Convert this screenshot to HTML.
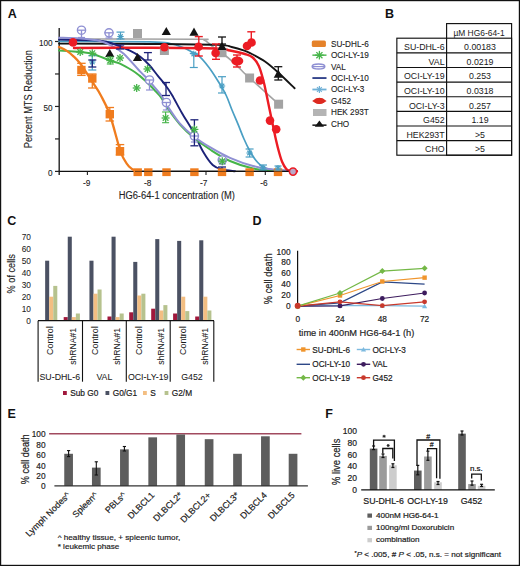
<!DOCTYPE html><html><head><meta charset="utf-8"><style>html,body{margin:0;padding:0;background:#fff;}svg{display:block;}</style></head><body>
<svg width="520" height="566" viewBox="0 0 520 566" font-family='"Liberation Sans", sans-serif'>
<rect x="0" y="0" width="520" height="566" fill="#fff" />
<rect x="0.55" y="0.55" width="518.9" height="564.9" fill="none" stroke="#111" stroke-width="1.3"/>
<text x="7.8" y="17.9" font-size="12.5" text-anchor="start" fill="#111" font-weight="bold" >A</text>
<line x1="59.2" y1="28" x2="59.2" y2="175" stroke="#222" stroke-width="1.4" />
<line x1="58.5" y1="171.4" x2="297" y2="171.4" stroke="#111" stroke-width="1.4" />
<line x1="55" y1="171.4" x2="59" y2="171.4" stroke="#222" stroke-width="1.2" />
<line x1="55" y1="138.925" x2="59" y2="138.925" stroke="#222" stroke-width="1.2" />
<line x1="55" y1="106.45" x2="59" y2="106.45" stroke="#222" stroke-width="1.2" />
<line x1="55" y1="73.97500000000001" x2="59" y2="73.97500000000001" stroke="#222" stroke-width="1.2" />
<line x1="55" y1="41.5" x2="59" y2="41.5" stroke="#222" stroke-width="1.2" />
<text x="52.6" y="45.8" font-size="8.2" text-anchor="end" fill="#222" stroke="#222" stroke-width="0.1" >100</text>
<text x="52.6" y="110.75" font-size="8.2" text-anchor="end" fill="#222" stroke="#222" stroke-width="0.1" >50</text>
<text x="52.6" y="175.70000000000002" font-size="8.2" text-anchor="end" fill="#222" stroke="#222" stroke-width="0.1" >0</text>
<line x1="87.4" y1="171.4" x2="87.4" y2="174.9" stroke="#222" stroke-width="1.1" />
<text x="86.7" y="185.8" font-size="8.3" text-anchor="middle" fill="#222" stroke="#222" stroke-width="0.1" >-9</text>
<line x1="146.7" y1="171.4" x2="146.7" y2="174.9" stroke="#222" stroke-width="1.1" />
<text x="147.6" y="185.8" font-size="8.3" text-anchor="middle" fill="#222" stroke="#222" stroke-width="0.1" >-8</text>
<line x1="206.0" y1="171.4" x2="206.0" y2="174.9" stroke="#222" stroke-width="1.1" />
<text x="203.8" y="185.8" font-size="8.3" text-anchor="middle" fill="#222" stroke="#222" stroke-width="0.1" >-7</text>
<line x1="265.29999999999995" y1="171.4" x2="265.29999999999995" y2="174.9" stroke="#222" stroke-width="1.1" />
<text x="264.0" y="185.8" font-size="8.3" text-anchor="middle" fill="#222" stroke="#222" stroke-width="0.1" >-6</text>
<text x="176.8" y="199.3" font-size="10" text-anchor="middle" fill="#222" stroke="#222" stroke-width="0.1" textLength="116.3" lengthAdjust="spacingAndGlyphs" >HG6-64-1 concentration (M)</text>
<text x="32.5" y="99.2" font-size="10" text-anchor="middle" fill="#222" stroke="#222" stroke-width="0.1" textLength="98" lengthAdjust="spacingAndGlyphs" transform="rotate(-90 32.5 99.2)" >Percent MTS Reduction</text>
<path d="M59.00,39.00 C81.67,39.03 170.83,39.03 195.00,39.20 C219.17,39.37 201.67,39.28 204.00,40.00 C206.33,40.72 206.75,41.73 209.00,43.50 C211.25,45.27 215.33,49.02 217.50,50.60 C219.67,52.18 219.17,50.88 222.00,53.00 C224.83,55.12 230.77,59.93 234.50,63.30 C238.23,66.67 241.88,70.75 244.40,73.20 C246.92,75.65 246.33,75.03 249.60,78.00 C252.87,80.97 259.17,86.63 264.00,91.00 C268.83,95.37 276.17,102.00 278.60,104.20" fill="none" stroke="#a3a3a3" stroke-width="1.6" stroke-linecap="round" stroke-linejoin="round"/>
<path d="M59.00,41.40 C74.17,41.47 131.50,41.45 150.00,41.80 C168.50,42.15 164.50,42.55 170.00,43.50 C175.50,44.45 179.50,46.17 183.00,47.50 C186.50,48.83 188.32,50.05 191.00,51.50 C193.68,52.95 196.10,53.53 199.10,56.20 C202.10,58.87 205.93,63.48 209.00,67.50 C212.07,71.52 214.67,75.72 217.50,80.30 C220.33,84.88 223.58,90.05 226.00,95.00 C228.42,99.95 229.97,105.07 232.00,110.00 C234.03,114.93 236.20,119.77 238.20,124.60 C240.20,129.43 242.10,134.68 244.00,139.00 C245.90,143.32 247.60,146.92 249.60,150.50 C251.60,154.08 253.70,157.72 256.00,160.50 C258.30,163.28 260.23,165.58 263.40,167.20 C266.57,168.82 269.40,169.57 275.00,170.20 C280.60,170.83 293.33,170.87 297.00,171.00" fill="none" stroke="#4a9fc4" stroke-width="1.7" stroke-linecap="round" stroke-linejoin="round"/>
<path d="M59.00,43.60 C74.17,43.67 123.58,43.78 150.00,44.00 C176.42,44.22 203.88,44.40 217.50,44.90 C231.12,45.40 227.22,46.05 231.70,47.00 C236.18,47.95 241.18,49.52 244.40,50.60 C247.62,51.68 247.57,51.68 251.00,53.50 C254.43,55.32 260.33,58.22 265.00,61.50 C269.67,64.78 274.07,68.73 279.00,73.20 C283.93,77.67 292.00,85.78 294.60,88.30" fill="none" stroke="#141414" stroke-width="1.9" stroke-linecap="round" stroke-linejoin="round"/>
<path d="M59.00,39.60 C65.83,39.77 90.67,39.78 100.00,40.60 C109.33,41.42 110.02,42.83 115.00,44.50 C119.98,46.17 125.73,48.60 129.90,50.60 C134.07,52.60 136.78,54.10 140.00,56.50 C143.22,58.90 146.25,61.82 149.20,65.00 C152.15,68.18 154.87,72.07 157.70,75.60 C160.53,79.13 163.82,82.97 166.20,86.20 C168.58,89.43 169.38,90.53 172.00,95.00 C174.62,99.47 178.32,106.78 181.90,113.00 C185.48,119.22 189.98,125.88 193.50,132.30 C197.02,138.72 199.80,146.05 203.00,151.50 C206.20,156.95 209.48,162.00 212.70,165.00 C215.92,168.00 218.58,168.47 222.30,169.50 C226.02,170.53 232.88,170.92 235.00,171.20" fill="none" stroke="#1c2278" stroke-width="1.9" stroke-linecap="round" stroke-linejoin="round"/>
<path d="M59.00,50.50 C62.50,50.75 74.33,51.42 80.00,52.00 C85.67,52.58 88.00,52.58 93.00,54.00 C98.00,55.42 105.50,58.90 110.00,60.50 C114.50,62.10 116.27,61.93 120.00,63.60 C123.73,65.27 129.15,68.50 132.40,70.50 C135.65,72.50 137.35,73.88 139.50,75.60 C141.65,77.32 143.37,78.98 145.30,80.80 C147.23,82.62 149.62,85.00 151.10,86.50 C152.58,88.00 152.52,87.95 154.20,89.80 C155.88,91.65 158.82,94.32 161.20,97.60 C163.58,100.88 165.37,105.02 168.50,109.50 C171.63,113.98 175.83,119.83 180.00,124.50 C184.17,129.17 188.37,133.25 193.50,137.50 C198.63,141.75 204.72,146.08 210.80,150.00 C216.88,153.92 222.97,157.92 230.00,161.00 C237.03,164.08 245.50,166.90 253.00,168.50 C260.50,170.10 267.67,170.18 275.00,170.60 C282.33,171.02 293.33,170.93 297.00,171.00" fill="none" stroke="#45b449" stroke-width="2.0" stroke-linecap="round" stroke-linejoin="round"/>
<path d="M59.00,37.70 C62.50,37.83 73.17,37.95 80.00,38.50 C86.83,39.05 94.67,39.75 100.00,41.00 C105.33,42.25 108.05,43.88 112.00,46.00 C115.95,48.12 119.03,49.47 123.70,53.70 C128.37,57.93 136.10,67.28 140.00,71.40 C143.90,75.52 144.73,75.82 147.10,78.40 C149.47,80.98 151.85,84.07 154.20,86.90 C156.55,89.73 158.82,91.97 161.20,95.40 C163.58,98.83 165.37,102.78 168.50,107.50 C171.63,112.22 175.83,118.92 180.00,123.70 C184.17,128.48 188.37,132.20 193.50,136.20 C198.63,140.20 204.72,144.10 210.80,147.70 C216.88,151.30 222.97,154.75 230.00,157.80 C237.03,160.85 245.50,164.00 253.00,166.00 C260.50,168.00 267.67,168.97 275.00,169.80 C282.33,170.63 293.33,170.80 297.00,171.00" fill="none" stroke="#8f90d3" stroke-width="2.0" stroke-linecap="round" stroke-linejoin="round"/>
<path d="M74.00,48.00 C86.67,47.97 126.50,47.72 150.00,47.80 C173.50,47.88 201.67,48.05 215.00,48.50 C228.33,48.95 225.00,49.58 230.00,50.50 C235.00,51.42 241.22,52.83 245.00,54.00 C248.78,55.17 250.40,55.50 252.70,57.50 C255.00,59.50 257.00,62.08 258.80,66.00 C260.60,69.92 262.22,76.23 263.50,81.00 C264.78,85.77 265.27,88.80 266.50,94.60 C267.73,100.40 269.73,110.23 270.90,115.80 C272.07,121.37 272.65,123.97 273.50,128.00 C274.35,132.03 275.08,136.00 276.00,140.00 C276.92,144.00 277.97,148.33 279.00,152.00 C280.03,155.67 280.98,159.17 282.20,162.00 C283.42,164.83 285.00,167.50 286.30,169.00 C287.60,170.50 288.22,170.63 290.00,171.00 C291.78,171.37 295.83,171.17 297.00,171.20" fill="none" stroke="#ec1c24" stroke-width="2.4" stroke-linecap="round" stroke-linejoin="round"/>
<path d="M59.00,47.00 C60.25,47.60 64.08,49.05 66.50,50.60 C68.92,52.15 71.18,54.10 73.50,56.30 C75.82,58.50 77.72,60.23 80.40,63.80 C83.08,67.37 87.30,74.23 89.60,77.70 C91.90,81.17 92.37,81.72 94.20,84.60 C96.03,87.48 98.00,90.02 100.60,95.00 C103.20,99.98 106.57,105.33 109.80,114.50 C113.03,123.67 117.55,142.42 120.00,150.00 C122.45,157.58 123.00,157.25 124.50,160.00 C126.00,162.75 127.25,164.73 129.00,166.50 C130.75,168.27 133.17,169.80 135.00,170.60 C136.83,171.40 139.17,171.18 140.00,171.30" fill="none" stroke="#f07c1e" stroke-width="2.3" stroke-linecap="round" stroke-linejoin="round"/>
<rect x="133.0" y="29.0" width="9" height="9" fill="#a3a3a3" />
<rect x="159.9" y="46.0" width="9" height="9" fill="#a3a3a3" />
<rect x="217.5" y="48.2" width="9" height="9" fill="#a3a3a3" />
<rect x="245.1" y="73.5" width="9" height="9" fill="#a3a3a3" />
<rect x="274.1" y="99.7" width="9" height="9" fill="#a3a3a3" />
<path d="M105.2,57.094 L109.8,48.906 L114.39999999999999,57.094 Z" fill="#141414"/>
<path d="M132.9,61.094 L137.5,52.906 L142.1,61.094 Z" fill="#141414"/>
<path d="M161.70000000000002,35.094 L166.3,26.906 L170.9,35.094 Z" fill="#141414"/>
<path d="M189.4,35.694 L194,27.506 L198.6,35.694 Z" fill="#141414"/>
<path d="M217.4,50.094 L222,41.906 L226.6,50.094 Z" fill="#141414"/>
<path d="M273.7,77.69399999999999 L278.3,69.506 L282.90000000000003,77.69399999999999 Z" fill="#141414"/>
<line x1="222" y1="37" x2="222" y2="44" stroke="#141414" stroke-width="1.3" />
<line x1="218.0" y1="37" x2="226.0" y2="37" stroke="#141414" stroke-width="1.3" />
<line x1="218.0" y1="44" x2="226.0" y2="44" stroke="#141414" stroke-width="1.3" />
<line x1="278.3" y1="66.7" x2="278.3" y2="80" stroke="#141414" stroke-width="1.3" />
<line x1="274.3" y1="66.7" x2="282.3" y2="66.7" stroke="#141414" stroke-width="1.3" />
<line x1="274.3" y1="80" x2="282.3" y2="80" stroke="#141414" stroke-width="1.3" />
<line x1="120.5" y1="32.1" x2="120.5" y2="39" stroke="#4a9fc4" stroke-width="1.2" />
<line x1="116.5" y1="32.1" x2="124.5" y2="32.1" stroke="#4a9fc4" stroke-width="1.2" />
<line x1="116.5" y1="39" x2="124.5" y2="39" stroke="#4a9fc4" stroke-width="1.2" />
<line x1="117.30" y1="36.50" x2="123.70" y2="36.50" stroke="#4a9fc4" stroke-width="1.1" />
<line x1="118.24" y1="34.24" x2="122.76" y2="38.76" stroke="#4a9fc4" stroke-width="1.1" />
<line x1="120.50" y1="33.30" x2="120.50" y2="39.70" stroke="#4a9fc4" stroke-width="1.1" />
<line x1="122.76" y1="34.24" x2="118.24" y2="38.76" stroke="#4a9fc4" stroke-width="1.1" />
<line x1="92.3" y1="55.7" x2="92.3" y2="70" stroke="#4a9fc4" stroke-width="1.2" />
<line x1="88.3" y1="55.7" x2="96.3" y2="55.7" stroke="#4a9fc4" stroke-width="1.2" />
<line x1="88.3" y1="70" x2="96.3" y2="70" stroke="#4a9fc4" stroke-width="1.2" />
<line x1="89.10" y1="62.00" x2="95.50" y2="62.00" stroke="#4a9fc4" stroke-width="1.1" />
<line x1="90.04" y1="59.74" x2="94.56" y2="64.26" stroke="#4a9fc4" stroke-width="1.1" />
<line x1="92.30" y1="58.80" x2="92.30" y2="65.20" stroke="#4a9fc4" stroke-width="1.1" />
<line x1="94.56" y1="59.74" x2="90.04" y2="64.26" stroke="#4a9fc4" stroke-width="1.1" />
<line x1="193.8" y1="53.4" x2="193.8" y2="67.5" stroke="#4a9fc4" stroke-width="1.2" />
<line x1="189.8" y1="53.4" x2="197.8" y2="53.4" stroke="#4a9fc4" stroke-width="1.2" />
<line x1="189.8" y1="67.5" x2="197.8" y2="67.5" stroke="#4a9fc4" stroke-width="1.2" />
<line x1="190.60" y1="54.00" x2="197.00" y2="54.00" stroke="#4a9fc4" stroke-width="1.1" />
<line x1="191.54" y1="51.74" x2="196.06" y2="56.26" stroke="#4a9fc4" stroke-width="1.1" />
<line x1="193.80" y1="50.80" x2="193.80" y2="57.20" stroke="#4a9fc4" stroke-width="1.1" />
<line x1="196.06" y1="51.74" x2="191.54" y2="56.26" stroke="#4a9fc4" stroke-width="1.1" />
<line x1="222" y1="76.7" x2="222" y2="93" stroke="#4a9fc4" stroke-width="1.2" />
<line x1="218.0" y1="76.7" x2="226.0" y2="76.7" stroke="#4a9fc4" stroke-width="1.2" />
<line x1="218.0" y1="93" x2="226.0" y2="93" stroke="#4a9fc4" stroke-width="1.2" />
<line x1="218.80" y1="86.00" x2="225.20" y2="86.00" stroke="#4a9fc4" stroke-width="1.1" />
<line x1="219.74" y1="83.74" x2="224.26" y2="88.26" stroke="#4a9fc4" stroke-width="1.1" />
<line x1="222.00" y1="82.80" x2="222.00" y2="89.20" stroke="#4a9fc4" stroke-width="1.1" />
<line x1="224.26" y1="83.74" x2="219.74" y2="88.26" stroke="#4a9fc4" stroke-width="1.1" />
<line x1="249.6" y1="149" x2="249.6" y2="157" stroke="#4a9fc4" stroke-width="1.2" />
<line x1="245.6" y1="149" x2="253.6" y2="149" stroke="#4a9fc4" stroke-width="1.2" />
<line x1="245.6" y1="157" x2="253.6" y2="157" stroke="#4a9fc4" stroke-width="1.2" />
<line x1="246.40" y1="153.00" x2="252.80" y2="153.00" stroke="#4a9fc4" stroke-width="1.1" />
<line x1="247.34" y1="150.74" x2="251.86" y2="155.26" stroke="#4a9fc4" stroke-width="1.1" />
<line x1="249.60" y1="149.80" x2="249.60" y2="156.20" stroke="#4a9fc4" stroke-width="1.1" />
<line x1="251.86" y1="150.74" x2="247.34" y2="155.26" stroke="#4a9fc4" stroke-width="1.1" />
<line x1="263" y1="165" x2="263" y2="170" stroke="#4a9fc4" stroke-width="1.2" />
<line x1="259.0" y1="165" x2="267.0" y2="165" stroke="#4a9fc4" stroke-width="1.2" />
<line x1="259.0" y1="170" x2="267.0" y2="170" stroke="#4a9fc4" stroke-width="1.2" />
<line x1="259.80" y1="168.00" x2="266.20" y2="168.00" stroke="#4a9fc4" stroke-width="1.1" />
<line x1="260.74" y1="165.74" x2="265.26" y2="170.26" stroke="#4a9fc4" stroke-width="1.1" />
<line x1="263.00" y1="164.80" x2="263.00" y2="171.20" stroke="#4a9fc4" stroke-width="1.1" />
<line x1="265.26" y1="165.74" x2="260.74" y2="170.26" stroke="#4a9fc4" stroke-width="1.1" />
<circle cx="81.5" cy="30.2" r="4.1" fill="#fff" stroke="#8f90d3" stroke-width="1.4"/>
<line x1="77.0" y1="30.2" x2="86.0" y2="30.2" stroke="#8f90d3" stroke-width="1.3" />
<line x1="81.5" y1="30.2" x2="81.5" y2="37.5" stroke="#8f90d3" stroke-width="1.3" />
<line x1="78.0" y1="37.5" x2="85.0" y2="37.5" stroke="#8f90d3" stroke-width="1.2" />
<circle cx="109" cy="32.8" r="4.1" fill="#fff" stroke="#8f90d3" stroke-width="1.4"/>
<line x1="104.5" y1="32.8" x2="113.5" y2="32.8" stroke="#8f90d3" stroke-width="1.3" />
<line x1="109" y1="32.8" x2="109" y2="38" stroke="#8f90d3" stroke-width="1.3" />
<line x1="105.5" y1="38" x2="112.5" y2="38" stroke="#8f90d3" stroke-width="1.2" />
<circle cx="149.5" cy="80" r="4.1" fill="#fff" stroke="#8f90d3" stroke-width="1.4"/>
<line x1="145.0" y1="80" x2="154.0" y2="80" stroke="#8f90d3" stroke-width="1.3" />
<line x1="149.5" y1="80" x2="149.5" y2="90" stroke="#8f90d3" stroke-width="1.3" />
<line x1="146.0" y1="90" x2="153.0" y2="90" stroke="#8f90d3" stroke-width="1.2" />
<circle cx="166.4" cy="102.5" r="4.1" fill="#fff" stroke="#8f90d3" stroke-width="1.4"/>
<line x1="161.9" y1="102.5" x2="170.9" y2="102.5" stroke="#8f90d3" stroke-width="1.3" />
<line x1="166.4" y1="102.5" x2="166.4" y2="110" stroke="#8f90d3" stroke-width="1.3" />
<line x1="162.9" y1="110" x2="169.9" y2="110" stroke="#8f90d3" stroke-width="1.2" />
<circle cx="194.4" cy="136" r="4.1" fill="#fff" stroke="#8f90d3" stroke-width="1.4"/>
<line x1="189.9" y1="136" x2="198.9" y2="136" stroke="#8f90d3" stroke-width="1.3" />
<line x1="194.4" y1="136" x2="194.4" y2="142" stroke="#8f90d3" stroke-width="1.3" />
<line x1="190.9" y1="142" x2="197.9" y2="142" stroke="#8f90d3" stroke-width="1.2" />
<circle cx="222.3" cy="160" r="4.1" fill="#fff" stroke="#8f90d3" stroke-width="1.4"/>
<line x1="217.8" y1="160" x2="226.8" y2="160" stroke="#8f90d3" stroke-width="1.3" />
<line x1="222.3" y1="160" x2="222.3" y2="164" stroke="#8f90d3" stroke-width="1.3" />
<line x1="218.8" y1="164" x2="225.8" y2="164" stroke="#8f90d3" stroke-width="1.2" />
<line x1="92.3" y1="60" x2="92.3" y2="67" stroke="#1c2278" stroke-width="1.3" />
<line x1="88.3" y1="60" x2="96.3" y2="60" stroke="#1c2278" stroke-width="1.3" />
<line x1="88.3" y1="67" x2="96.3" y2="67" stroke="#1c2278" stroke-width="1.3" />
<line x1="120.2" y1="45" x2="120.2" y2="49" stroke="#1c2278" stroke-width="1.3" />
<line x1="116.2" y1="45" x2="124.2" y2="45" stroke="#1c2278" stroke-width="1.3" />
<line x1="116.2" y1="49" x2="124.2" y2="49" stroke="#1c2278" stroke-width="1.3" />
<line x1="147.9" y1="52.6" x2="147.9" y2="60" stroke="#1c2278" stroke-width="1.3" />
<line x1="143.9" y1="52.6" x2="151.9" y2="52.6" stroke="#1c2278" stroke-width="1.3" />
<line x1="143.9" y1="60" x2="151.9" y2="60" stroke="#1c2278" stroke-width="1.3" />
<line x1="166" y1="82.5" x2="166" y2="95.5" stroke="#1c2278" stroke-width="1.3" />
<line x1="162.0" y1="82.5" x2="170.0" y2="82.5" stroke="#1c2278" stroke-width="1.3" />
<line x1="162.0" y1="95.5" x2="170.0" y2="95.5" stroke="#1c2278" stroke-width="1.3" />
<line x1="194.4" y1="119.8" x2="194.4" y2="145.8" stroke="#1c2278" stroke-width="1.3" />
<line x1="190.4" y1="119.8" x2="198.4" y2="119.8" stroke="#1c2278" stroke-width="1.3" />
<line x1="190.4" y1="145.8" x2="198.4" y2="145.8" stroke="#1c2278" stroke-width="1.3" />
<line x1="222" y1="167" x2="222" y2="171" stroke="#1c2278" stroke-width="1.3" />
<line x1="218.0" y1="167" x2="226.0" y2="167" stroke="#1c2278" stroke-width="1.3" />
<line x1="218.0" y1="171" x2="226.0" y2="171" stroke="#1c2278" stroke-width="1.3" />
<line x1="76.20" y1="52.00" x2="84.20" y2="52.00" stroke="#45b449" stroke-width="1.3" />
<line x1="77.37" y1="49.17" x2="83.03" y2="54.83" stroke="#45b449" stroke-width="1.3" />
<line x1="80.20" y1="48.00" x2="80.20" y2="56.00" stroke="#45b449" stroke-width="1.3" />
<line x1="83.03" y1="49.17" x2="77.37" y2="54.83" stroke="#45b449" stroke-width="1.3" />
<line x1="88.30" y1="53.20" x2="96.30" y2="53.20" stroke="#45b449" stroke-width="1.3" />
<line x1="89.47" y1="50.37" x2="95.13" y2="56.03" stroke="#45b449" stroke-width="1.3" />
<line x1="92.30" y1="49.20" x2="92.30" y2="57.20" stroke="#45b449" stroke-width="1.3" />
<line x1="95.13" y1="50.37" x2="89.47" y2="56.03" stroke="#45b449" stroke-width="1.3" />
<line x1="106.30" y1="60.50" x2="114.30" y2="60.50" stroke="#45b449" stroke-width="1.3" />
<line x1="107.47" y1="57.67" x2="113.13" y2="63.33" stroke="#45b449" stroke-width="1.3" />
<line x1="110.30" y1="56.50" x2="110.30" y2="64.50" stroke="#45b449" stroke-width="1.3" />
<line x1="113.13" y1="57.67" x2="107.47" y2="63.33" stroke="#45b449" stroke-width="1.3" />
<line x1="116.00" y1="58.00" x2="124.00" y2="58.00" stroke="#45b449" stroke-width="1.3" />
<line x1="117.17" y1="55.17" x2="122.83" y2="60.83" stroke="#45b449" stroke-width="1.3" />
<line x1="120.00" y1="54.00" x2="120.00" y2="62.00" stroke="#45b449" stroke-width="1.3" />
<line x1="122.83" y1="55.17" x2="117.17" y2="60.83" stroke="#45b449" stroke-width="1.3" />
<line x1="132.70" y1="88.00" x2="140.70" y2="88.00" stroke="#45b449" stroke-width="1.3" />
<line x1="133.87" y1="85.17" x2="139.53" y2="90.83" stroke="#45b449" stroke-width="1.3" />
<line x1="136.70" y1="84.00" x2="136.70" y2="92.00" stroke="#45b449" stroke-width="1.3" />
<line x1="139.53" y1="85.17" x2="133.87" y2="90.83" stroke="#45b449" stroke-width="1.3" />
<line x1="143.50" y1="69.00" x2="151.50" y2="69.00" stroke="#45b449" stroke-width="1.3" />
<line x1="144.67" y1="66.17" x2="150.33" y2="71.83" stroke="#45b449" stroke-width="1.3" />
<line x1="147.50" y1="65.00" x2="147.50" y2="73.00" stroke="#45b449" stroke-width="1.3" />
<line x1="150.33" y1="66.17" x2="144.67" y2="71.83" stroke="#45b449" stroke-width="1.3" />
<line x1="161.60" y1="118.00" x2="169.60" y2="118.00" stroke="#45b449" stroke-width="1.3" />
<line x1="162.77" y1="115.17" x2="168.43" y2="120.83" stroke="#45b449" stroke-width="1.3" />
<line x1="165.60" y1="114.00" x2="165.60" y2="122.00" stroke="#45b449" stroke-width="1.3" />
<line x1="168.43" y1="115.17" x2="162.77" y2="120.83" stroke="#45b449" stroke-width="1.3" />
<line x1="190.40" y1="129.40" x2="198.40" y2="129.40" stroke="#45b449" stroke-width="1.3" />
<line x1="191.57" y1="126.57" x2="197.23" y2="132.23" stroke="#45b449" stroke-width="1.3" />
<line x1="194.40" y1="125.40" x2="194.40" y2="133.40" stroke="#45b449" stroke-width="1.3" />
<line x1="197.23" y1="126.57" x2="191.57" y2="132.23" stroke="#45b449" stroke-width="1.3" />
<line x1="218.30" y1="161.20" x2="226.30" y2="161.20" stroke="#45b449" stroke-width="1.3" />
<line x1="219.47" y1="158.37" x2="225.13" y2="164.03" stroke="#45b449" stroke-width="1.3" />
<line x1="222.30" y1="157.20" x2="222.30" y2="165.20" stroke="#45b449" stroke-width="1.3" />
<line x1="225.13" y1="158.37" x2="219.47" y2="164.03" stroke="#45b449" stroke-width="1.3" />
<line x1="165.6" y1="112" x2="165.6" y2="122.7" stroke="#45b449" stroke-width="1.1" />
<line x1="162.1" y1="112" x2="169.1" y2="112" stroke="#45b449" stroke-width="1.1" />
<line x1="162.1" y1="122.7" x2="169.1" y2="122.7" stroke="#45b449" stroke-width="1.1" />
<line x1="110.3" y1="57" x2="110.3" y2="64" stroke="#45b449" stroke-width="1.1" />
<line x1="106.8" y1="57" x2="113.8" y2="57" stroke="#45b449" stroke-width="1.1" />
<line x1="106.8" y1="64" x2="113.8" y2="64" stroke="#45b449" stroke-width="1.1" />
<line x1="198.8" y1="36.6" x2="198.8" y2="56" stroke="#ec1c24" stroke-width="1.4" />
<line x1="194.8" y1="36.6" x2="202.8" y2="36.6" stroke="#ec1c24" stroke-width="1.4" />
<line x1="194.8" y1="56" x2="202.8" y2="56" stroke="#ec1c24" stroke-width="1.4" />
<line x1="251.3" y1="31.8" x2="251.3" y2="44" stroke="#ec1c24" stroke-width="1.4" />
<line x1="247.3" y1="31.8" x2="255.3" y2="31.8" stroke="#ec1c24" stroke-width="1.4" />
<line x1="247.3" y1="44" x2="255.3" y2="44" stroke="#ec1c24" stroke-width="1.4" />
<line x1="216" y1="44" x2="216" y2="59.3" stroke="#ec1c24" stroke-width="1.4" />
<line x1="212.0" y1="44" x2="220.0" y2="44" stroke="#ec1c24" stroke-width="1.4" />
<line x1="212.0" y1="59.3" x2="220.0" y2="59.3" stroke="#ec1c24" stroke-width="1.4" />
<line x1="237" y1="55" x2="237" y2="67" stroke="#ec1c24" stroke-width="1.4" />
<line x1="233.0" y1="55" x2="241.0" y2="55" stroke="#ec1c24" stroke-width="1.4" />
<line x1="233.0" y1="67" x2="241.0" y2="67" stroke="#ec1c24" stroke-width="1.4" />
<circle cx="73" cy="42.4" r="4.3" fill="#ec1c24"/>
<circle cx="164.4" cy="47.2" r="4.3" fill="#ec1c24"/>
<circle cx="198.6" cy="46.8" r="4.3" fill="#ec1c24"/>
<circle cx="215.6" cy="53" r="4.3" fill="#ec1c24"/>
<circle cx="247" cy="46" r="4.3" fill="#ec1c24"/>
<circle cx="251.5" cy="42.5" r="4.3" fill="#ec1c24"/>
<circle cx="260" cy="80.5" r="4.3" fill="#ec1c24"/>
<circle cx="270" cy="120.6" r="4.3" fill="#ec1c24"/>
<circle cx="276.2" cy="129.2" r="4.3" fill="#ec1c24"/>
<ellipse cx="237.3" cy="61" rx="6" ry="4.5" fill="#ec1c24"/>
<rect x="77.2" y="65.8" width="8.4" height="8.4" fill="#f07c1e" />
<rect x="88.1" y="74.3" width="8.4" height="8.4" fill="#f07c1e" />
<rect x="105.6" y="110.0" width="8.4" height="8.4" fill="#f07c1e" />
<rect x="115.8" y="147.0" width="8.4" height="8.4" fill="#f07c1e" />
<line x1="81.4" y1="63.3" x2="81.4" y2="75.4" stroke="#f07c1e" stroke-width="1.3" />
<line x1="77.15" y1="63.3" x2="85.65" y2="63.3" stroke="#f07c1e" stroke-width="1.3" />
<line x1="77.15" y1="75.4" x2="85.65" y2="75.4" stroke="#f07c1e" stroke-width="1.3" />
<line x1="92.3" y1="74" x2="92.3" y2="88" stroke="#f07c1e" stroke-width="1.3" />
<line x1="88.05" y1="74" x2="96.55" y2="74" stroke="#f07c1e" stroke-width="1.3" />
<line x1="88.05" y1="88" x2="96.55" y2="88" stroke="#f07c1e" stroke-width="1.3" />
<line x1="109.8" y1="107.5" x2="109.8" y2="121" stroke="#f07c1e" stroke-width="1.3" />
<line x1="105.55" y1="107.5" x2="114.05" y2="107.5" stroke="#f07c1e" stroke-width="1.3" />
<line x1="105.55" y1="121" x2="114.05" y2="121" stroke="#f07c1e" stroke-width="1.3" />
<line x1="120" y1="144.6" x2="120" y2="155" stroke="#f07c1e" stroke-width="1.3" />
<line x1="115.75" y1="144.6" x2="124.25" y2="144.6" stroke="#f07c1e" stroke-width="1.3" />
<line x1="115.75" y1="155" x2="124.25" y2="155" stroke="#f07c1e" stroke-width="1.3" />
<line x1="140" y1="171.4" x2="297" y2="171.4" stroke="#111" stroke-width="1.4" />
<rect x="133.5" y="168.3" width="8.4" height="7.8" fill="#f07c1e" />
<rect x="144.10000000000002" y="168.3" width="8.4" height="7.8" fill="#f07c1e" />
<rect x="162.3" y="168.3" width="8.4" height="7.8" fill="#f07c1e" />
<rect x="190.20000000000002" y="168.3" width="8.4" height="7.8" fill="#f07c1e" />
<rect x="217.8" y="168.3" width="8.4" height="7.8" fill="#f07c1e" />
<rect x="245.4" y="168.3" width="8.4" height="7.8" fill="#f07c1e" />
<rect x="273.8" y="168.3" width="8.4" height="7.8" fill="#f07c1e" />
<line x1="135" y1="171.4" x2="297" y2="171.4" stroke="#111" stroke-width="1.0" opacity="0.6"/>
<circle cx="293" cy="171.6" r="3.6" fill="#b9a9c9" stroke="#ec1c24" stroke-width="1.6"/>
<line x1="278" y1="166" x2="278" y2="170" stroke="#4a9fc4" stroke-width="1.2" />
<line x1="274.5" y1="166" x2="281.5" y2="166" stroke="#4a9fc4" stroke-width="1.2" />
<line x1="274.5" y1="170" x2="281.5" y2="170" stroke="#4a9fc4" stroke-width="1.2" />
<line x1="275.00" y1="168.00" x2="281.00" y2="168.00" stroke="#4a9fc4" stroke-width="1.1" />
<line x1="275.88" y1="165.88" x2="280.12" y2="170.12" stroke="#4a9fc4" stroke-width="1.1" />
<line x1="278.00" y1="165.00" x2="278.00" y2="171.00" stroke="#4a9fc4" stroke-width="1.1" />
<line x1="280.12" y1="165.88" x2="275.88" y2="170.12" stroke="#4a9fc4" stroke-width="1.1" />
<rect x="311.8" y="40.400000000000006" width="14.1" height="6.7" fill="#e5822a" rx="1.6"/>
<text x="331" y="46.6" font-size="8.2" text-anchor="start" fill="#1a1a1a" stroke="#1a1a1a" stroke-width="0.1" >SU-DHL-6</text>
<line x1="312.4" y1="55.150000000000006" x2="326.5" y2="55.150000000000006" stroke="#45b449" stroke-width="1.4" />
<line x1="315.10" y1="55.15" x2="323.70" y2="55.15" stroke="#45b449" stroke-width="1.3" />
<line x1="316.36" y1="52.11" x2="322.44" y2="58.19" stroke="#45b449" stroke-width="1.3" />
<line x1="319.40" y1="50.85" x2="319.40" y2="59.45" stroke="#45b449" stroke-width="1.3" />
<line x1="322.44" y1="52.11" x2="316.36" y2="58.19" stroke="#45b449" stroke-width="1.3" />
<text x="331" y="58.050000000000004" font-size="8.2" text-anchor="start" fill="#1a1a1a" stroke="#1a1a1a" stroke-width="0.1" >OCI-LY-19</text>
<ellipse cx="318.5" cy="66.6" rx="6.3" ry="2.5" fill="none" stroke="#8f90d3" stroke-width="1.5"/>
<line x1="312.5" y1="66.6" x2="324.5" y2="66.6" stroke="#8f90d3" stroke-width="1.2" />
<text x="331" y="69.5" font-size="8.2" text-anchor="start" fill="#1a1a1a" stroke="#1a1a1a" stroke-width="0.1" >VAL</text>
<line x1="312.4" y1="78.05" x2="326.5" y2="78.05" stroke="#34458c" stroke-width="1.9" />
<text x="331" y="80.95" font-size="8.2" text-anchor="start" fill="#1a1a1a" stroke="#1a1a1a" stroke-width="0.1" >OCI-LY-10</text>
<line x1="312.4" y1="89.5" x2="326.5" y2="89.5" stroke="#6fb0d6" stroke-width="1.8" />
<line x1="316.00" y1="89.50" x2="322.80" y2="89.50" stroke="#6fb0d6" stroke-width="1.2" />
<line x1="317.00" y1="87.10" x2="321.80" y2="91.90" stroke="#6fb0d6" stroke-width="1.2" />
<line x1="319.40" y1="86.10" x2="319.40" y2="92.90" stroke="#6fb0d6" stroke-width="1.2" />
<line x1="321.80" y1="87.10" x2="317.00" y2="91.90" stroke="#6fb0d6" stroke-width="1.2" />
<text x="331" y="92.4" font-size="8.2" text-anchor="start" fill="#1a1a1a" stroke="#1a1a1a" stroke-width="0.1" >OCI-LY-3</text>
<path d="M312.2,100.95 Q319.4,94.75 326.6,100.95 Q319.4,107.15 312.2,100.95 Z" fill="#dd2a20"/>
<ellipse cx="319.4" cy="100.95" rx="4.6" ry="3.0" fill="#dd2a20"/>
<text x="331" y="103.85000000000001" font-size="8.2" text-anchor="start" fill="#1a1a1a" stroke="#1a1a1a" stroke-width="0.1" >G452</text>
<rect x="313" y="108.99999999999999" width="13.5" height="7" fill="#b4b4b4" />
<text x="331" y="115.3" font-size="8.2" text-anchor="start" fill="#1a1a1a" stroke="#1a1a1a" stroke-width="0.1" >HEK 293T</text>
<line x1="312.4" y1="125.14999999999999" x2="326.5" y2="125.14999999999999" stroke="#141414" stroke-width="1.5" />
<path d="M314.8,126.64999999999999 L319.4,120.44999999999999 L324,126.64999999999999 Z" fill="#141414"/>
<text x="331" y="126.75" font-size="8.2" text-anchor="start" fill="#1a1a1a" stroke="#1a1a1a" stroke-width="0.1" >CHO</text>
<text x="384.9" y="17.9" font-size="12.5" text-anchor="start" fill="#111" font-weight="bold" >B</text>
<g stroke="#111" stroke-width="1.15" fill="none">
<rect x="446.6" y="23.6" width="65.0" height="131.6"/>
<rect x="396.85" y="38.2" width="114.75" height="116.99999999999999"/>
<line x1="396.85" y1="52.825" x2="511.6" y2="52.825"/>
<line x1="396.85" y1="67.45" x2="511.6" y2="67.45"/>
<line x1="396.85" y1="82.075" x2="511.6" y2="82.075"/>
<line x1="396.85" y1="96.7" x2="511.6" y2="96.7"/>
<line x1="396.85" y1="111.325" x2="511.6" y2="111.325"/>
<line x1="396.85" y1="125.95" x2="511.6" y2="125.95"/>
<line x1="396.85" y1="140.575" x2="511.6" y2="140.575"/>
</g>
<text x="479" y="36.0" font-size="8.7" text-anchor="middle" fill="#1a1a1a" textLength="51.2" lengthAdjust="spacingAndGlyphs" >µM HG6-64-1</text>
<text x="444.6" y="50.0" font-size="8.8" text-anchor="end" fill="#1a1a1a" >SU-DHL-6</text>
<text x="480" y="50.0" font-size="8.8" text-anchor="middle" fill="#1a1a1a" >0.00183</text>
<text x="444.6" y="64.625" font-size="8.8" text-anchor="end" fill="#1a1a1a" >VAL</text>
<text x="480" y="64.625" font-size="8.8" text-anchor="middle" fill="#1a1a1a" >0.0219</text>
<text x="444.6" y="79.25" font-size="8.8" text-anchor="end" fill="#1a1a1a" >OCI-LY-19</text>
<text x="480" y="79.25" font-size="8.8" text-anchor="middle" fill="#1a1a1a" >0.253</text>
<text x="444.6" y="93.875" font-size="8.8" text-anchor="end" fill="#1a1a1a" >OCI-LY-10</text>
<text x="480" y="93.875" font-size="8.8" text-anchor="middle" fill="#1a1a1a" >0.0318</text>
<text x="444.6" y="108.5" font-size="8.8" text-anchor="end" fill="#1a1a1a" >OCI-LY-3</text>
<text x="480" y="108.5" font-size="8.8" text-anchor="middle" fill="#1a1a1a" >0.257</text>
<text x="444.6" y="123.125" font-size="8.8" text-anchor="end" fill="#1a1a1a" >G452</text>
<text x="480" y="123.125" font-size="8.8" text-anchor="middle" fill="#1a1a1a" >1.19</text>
<text x="444.6" y="137.75" font-size="8.8" text-anchor="end" fill="#1a1a1a" >HEK293T</text>
<text x="480" y="137.75" font-size="8.8" text-anchor="middle" fill="#1a1a1a" >&gt;5</text>
<text x="444.6" y="152.375" font-size="8.8" text-anchor="end" fill="#1a1a1a" >CHO</text>
<text x="480" y="152.375" font-size="8.8" text-anchor="middle" fill="#1a1a1a" >&gt;5</text>
<text x="7.2" y="224.7" font-size="12.5" text-anchor="start" fill="#111" font-weight="bold" >C</text>
<text x="30.9" y="324.0" font-size="8.3" text-anchor="end" fill="#222" stroke="#222" stroke-width="0.05" >0</text>
<text x="30.9" y="312.0" font-size="8.3" text-anchor="end" fill="#222" stroke="#222" stroke-width="0.05" >10</text>
<text x="30.9" y="300.0" font-size="8.3" text-anchor="end" fill="#222" stroke="#222" stroke-width="0.05" >20</text>
<text x="30.9" y="288.0" font-size="8.3" text-anchor="end" fill="#222" stroke="#222" stroke-width="0.05" >30</text>
<text x="30.9" y="276.0" font-size="8.3" text-anchor="end" fill="#222" stroke="#222" stroke-width="0.05" >40</text>
<text x="30.9" y="264.0" font-size="8.3" text-anchor="end" fill="#222" stroke="#222" stroke-width="0.05" >50</text>
<text x="30.9" y="252.0" font-size="8.3" text-anchor="end" fill="#222" stroke="#222" stroke-width="0.05" >60</text>
<text x="30.9" y="240.0" font-size="8.3" text-anchor="end" fill="#222" stroke="#222" stroke-width="0.05" >70</text>
<text x="15.3" y="273.8" font-size="10.8" text-anchor="middle" fill="#222" stroke="#222" stroke-width="0.12" textLength="39.2" lengthAdjust="spacingAndGlyphs" transform="rotate(-90 15.3 273.8)" >% of cells</text>
<rect x="41.1" y="320.09999999999997" width="4.05" height="0.6" fill="#a0183c" />
<rect x="45.15" y="260.7" width="4.05" height="60.0" fill="#4b5163" />
<rect x="49.2" y="296.7" width="4.05" height="24.0" fill="#f3be82" />
<rect x="53.25" y="285.9" width="4.05" height="34.8" fill="#b6c28e" />
<rect x="63.7" y="317.09999999999997" width="4.05" height="3.5999999999999996" fill="#a0183c" />
<rect x="67.75" y="236.7" width="4.05" height="84.0" fill="#4b5163" />
<rect x="71.8" y="317.09999999999997" width="4.05" height="3.5999999999999996" fill="#f3be82" />
<rect x="75.85" y="313.5" width="4.05" height="7.199999999999999" fill="#b6c28e" />
<rect x="85.4" y="320.09999999999997" width="4.05" height="0.6" fill="#a0183c" />
<rect x="89.45" y="260.7" width="4.05" height="60.0" fill="#4b5163" />
<rect x="93.5" y="293.7" width="4.05" height="27.0" fill="#f3be82" />
<rect x="97.55000000000001" y="289.5" width="4.05" height="31.2" fill="#b6c28e" />
<rect x="107.5" y="316.5" width="4.05" height="4.2" fill="#a0183c" />
<rect x="111.55" y="236.7" width="4.05" height="84.0" fill="#4b5163" />
<rect x="115.6" y="317.09999999999997" width="4.05" height="3.5999999999999996" fill="#f3be82" />
<rect x="119.65" y="313.5" width="4.05" height="7.199999999999999" fill="#b6c28e" />
<rect x="129.2" y="312.3" width="4.05" height="8.4" fill="#a0183c" />
<rect x="133.25" y="261.9" width="4.05" height="58.8" fill="#4b5163" />
<rect x="137.29999999999998" y="295.5" width="4.05" height="25.2" fill="#f3be82" />
<rect x="141.35" y="293.7" width="4.05" height="27.0" fill="#b6c28e" />
<rect x="151.2" y="308.7" width="4.05" height="12.0" fill="#a0183c" />
<rect x="155.25" y="239.1" width="4.05" height="81.6" fill="#4b5163" />
<rect x="159.29999999999998" y="310.5" width="4.05" height="10.2" fill="#f3be82" />
<rect x="163.35" y="305.09999999999997" width="4.05" height="15.6" fill="#b6c28e" />
<rect x="173.1" y="313.5" width="4.05" height="7.199999999999999" fill="#a0183c" />
<rect x="177.15" y="240.89999999999998" width="4.05" height="79.8" fill="#4b5163" />
<rect x="181.2" y="296.7" width="4.05" height="24.0" fill="#f3be82" />
<rect x="185.25" y="311.09999999999997" width="4.05" height="9.6" fill="#b6c28e" />
<rect x="195.2" y="316.5" width="4.05" height="4.2" fill="#a0183c" />
<rect x="199.25" y="240.3" width="4.05" height="80.39999999999999" fill="#4b5163" />
<rect x="203.29999999999998" y="296.7" width="4.05" height="24.0" fill="#f3be82" />
<rect x="207.35" y="310.5" width="4.05" height="10.2" fill="#b6c28e" />
<line x1="38" y1="320.7" x2="214" y2="320.7" stroke="#111" stroke-width="1.2" />
<line x1="38.1" y1="320.7" x2="38.1" y2="381.7" stroke="#111" stroke-width="1.1" />
<line x1="82.5" y1="320.7" x2="82.5" y2="381.7" stroke="#111" stroke-width="1.1" />
<line x1="126.3" y1="320.7" x2="126.3" y2="381.7" stroke="#111" stroke-width="1.1" />
<line x1="170.2" y1="320.7" x2="170.2" y2="381.7" stroke="#111" stroke-width="1.1" />
<line x1="213.8" y1="320.7" x2="213.8" y2="381.7" stroke="#111" stroke-width="1.1" />
<text x="53.400000000000006" y="326.3" font-size="8.9" text-anchor="end" fill="#1a1a1a" stroke="#1a1a1a" stroke-width="0.05" transform="rotate(-90 53.400000000000006 326.3)" >Control</text>
<text x="75.9" y="328.0" font-size="8.6" text-anchor="end" fill="#1a1a1a" stroke="#1a1a1a" stroke-width="0.05" transform="rotate(-90 75.9 328.0)" >shRNA#1</text>
<text x="97.7" y="326.3" font-size="8.9" text-anchor="end" fill="#1a1a1a" stroke="#1a1a1a" stroke-width="0.05" transform="rotate(-90 97.7 326.3)" >Control</text>
<text x="119.9" y="328.0" font-size="8.6" text-anchor="end" fill="#1a1a1a" stroke="#1a1a1a" stroke-width="0.05" transform="rotate(-90 119.9 328.0)" >shRNA#1</text>
<text x="141.7" y="326.3" font-size="8.9" text-anchor="end" fill="#1a1a1a" stroke="#1a1a1a" stroke-width="0.05" transform="rotate(-90 141.7 326.3)" >Control</text>
<text x="163.9" y="328.0" font-size="8.6" text-anchor="end" fill="#1a1a1a" stroke="#1a1a1a" stroke-width="0.05" transform="rotate(-90 163.9 328.0)" >shRNA#1</text>
<text x="185.6" y="326.3" font-size="8.9" text-anchor="end" fill="#1a1a1a" stroke="#1a1a1a" stroke-width="0.05" transform="rotate(-90 185.6 326.3)" >Control</text>
<text x="207.9" y="328.0" font-size="8.6" text-anchor="end" fill="#1a1a1a" stroke="#1a1a1a" stroke-width="0.05" transform="rotate(-90 207.9 328.0)" >shRNA#1</text>
<text x="59.8" y="379.8" font-size="8.8" text-anchor="middle" fill="#1a1a1a" stroke="#1a1a1a" stroke-width="0.05" >SU-DHL-6</text>
<text x="104.4" y="379.8" font-size="8.8" text-anchor="middle" fill="#1a1a1a" stroke="#1a1a1a" stroke-width="0.05" >VAL</text>
<text x="148.2" y="379.8" font-size="8.8" text-anchor="middle" fill="#1a1a1a" stroke="#1a1a1a" stroke-width="0.05" >OCI-LY-19</text>
<text x="192" y="379.8" font-size="8.8" text-anchor="middle" fill="#1a1a1a" stroke="#1a1a1a" stroke-width="0.05" >G452</text>
<rect x="63" y="391" width="3.8" height="4" fill="#a0183c" />
<text x="70.2" y="396" font-size="8.3" text-anchor="start" fill="#1a1a1a" stroke="#1a1a1a" stroke-width="0.18" >Sub G0</text>
<rect x="105.5" y="391" width="3.8" height="4" fill="#4b5163" />
<text x="112.7" y="396" font-size="8.3" text-anchor="start" fill="#1a1a1a" stroke="#1a1a1a" stroke-width="0.18" >G0/G1</text>
<rect x="143" y="391" width="3.8" height="4" fill="#f3be82" />
<text x="150.2" y="396" font-size="8.3" text-anchor="start" fill="#1a1a1a" stroke="#1a1a1a" stroke-width="0.18" >S</text>
<rect x="164.6" y="391" width="3.8" height="4" fill="#b6c28e" />
<text x="171.79999999999998" y="396" font-size="8.3" text-anchor="start" fill="#1a1a1a" stroke="#1a1a1a" stroke-width="0.18" >G2/M</text>
<text x="252.6" y="224.9" font-size="12.5" text-anchor="start" fill="#111" font-weight="bold" >D</text>
<text x="290.6" y="309.4" font-size="8.4" text-anchor="end" fill="#222" stroke="#222" stroke-width="0.18" >0</text>
<text x="290.6" y="298.41999999999996" font-size="8.4" text-anchor="end" fill="#222" stroke="#222" stroke-width="0.18" >20</text>
<text x="290.6" y="287.44" font-size="8.4" text-anchor="end" fill="#222" stroke="#222" stroke-width="0.18" >40</text>
<text x="290.6" y="276.46" font-size="8.4" text-anchor="end" fill="#222" stroke="#222" stroke-width="0.18" >60</text>
<text x="290.6" y="265.47999999999996" font-size="8.4" text-anchor="end" fill="#222" stroke="#222" stroke-width="0.18" >80</text>
<text x="290.6" y="254.49999999999997" font-size="8.4" text-anchor="end" fill="#222" stroke="#222" stroke-width="0.18" >100</text>
<line x1="297.6" y1="250.8" x2="297.6" y2="306.2" stroke="#111" stroke-width="1.2" />
<text x="272.1" y="278.8" font-size="10.5" text-anchor="middle" fill="#222" stroke="#222" stroke-width="0.18" textLength="50.8" lengthAdjust="spacingAndGlyphs" transform="rotate(-90 272.1 278.8)" >% cell death</text>
<text x="297.7" y="321.8" font-size="8.3" text-anchor="middle" fill="#222" stroke="#222" stroke-width="0.18" >0</text>
<text x="340.0" y="321.8" font-size="8.3" text-anchor="middle" fill="#222" stroke="#222" stroke-width="0.18" >24</text>
<text x="382.29999999999995" y="321.8" font-size="8.3" text-anchor="middle" fill="#222" stroke="#222" stroke-width="0.18" >48</text>
<text x="424.59999999999997" y="321.8" font-size="8.3" text-anchor="middle" fill="#222" stroke="#222" stroke-width="0.18" >72</text>
<text x="298.75" y="335.9" font-size="9.6" text-anchor="start" fill="#222" stroke="#222" stroke-width="0.18" textLength="115.5" lengthAdjust="spacingAndGlyphs" >time in 400nM HG6-64-1 (h)</text>
<polyline points="297.7,306.2 340.0,305.4 382.3,305.7 424.6,306.2" fill="none" stroke="#7dbadf" stroke-width="1.25"/>
<path d="M295.09999999999997,308.2 L297.7,303.8 L300.3,308.2 Z" fill="#7dbadf"/>
<path d="M337.4,307.37649999999996 L340.0,302.9765 L342.6,307.37649999999996 Z" fill="#7dbadf"/>
<path d="M379.69999999999993,307.651 L382.29999999999995,303.25100000000003 L384.9,307.651 Z" fill="#7dbadf"/>
<path d="M421.99999999999994,308.2 L424.59999999999997,303.8 L427.2,308.2 Z" fill="#7dbadf"/>
<polyline points="297.7,306.2 340.0,302.9 382.3,282.0 424.6,284.2" fill="none" stroke="#2d4887" stroke-width="1.25"/>
<polyline points="297.7,306.2 340.0,305.9 382.3,298.5 424.6,293.0" fill="none" stroke="#3d1c5e" stroke-width="1.25"/>
<circle cx="297.7" cy="306.2" r="2.4" fill="#3d1c5e"/>
<circle cx="340.0" cy="305.9255" r="2.4" fill="#3d1c5e"/>
<circle cx="382.29999999999995" cy="298.514" r="2.4" fill="#3d1c5e"/>
<circle cx="424.59999999999997" cy="293.024" r="2.4" fill="#3d1c5e"/>
<polyline points="297.7,306.2 340.0,301.8 382.3,305.7 424.6,301.8" fill="none" stroke="#c8392c" stroke-width="1.25"/>
<circle cx="297.7" cy="306.2" r="2.4" fill="#c8392c"/>
<circle cx="340.0" cy="301.808" r="2.4" fill="#c8392c"/>
<circle cx="382.29999999999995" cy="305.651" r="2.4" fill="#c8392c"/>
<circle cx="424.59999999999997" cy="301.808" r="2.4" fill="#c8392c"/>
<polyline points="297.7,306.2 340.0,295.5 382.3,281.5 424.6,277.7" fill="none" stroke="#f0952d" stroke-width="1.25"/>
<rect x="295.5" y="304.0" width="4.4" height="4.4" fill="#f0952d" />
<rect x="337.8" y="293.2945" width="4.4" height="4.4" fill="#f0952d" />
<rect x="380.09999999999997" y="279.295" width="4.4" height="4.4" fill="#f0952d" />
<rect x="422.4" y="275.452" width="4.4" height="4.4" fill="#f0952d" />
<polyline points="297.7,306.2 340.0,293.0 382.3,271.1 424.6,268.3" fill="none" stroke="#74b847" stroke-width="1.25"/>
<path d="M297.7,303.2 L300.7,306.2 L297.7,309.2 L294.7,306.2 Z" fill="#74b847"/>
<path d="M340.0,290.024 L343.0,293.024 L340.0,296.024 L337.0,293.024 Z" fill="#74b847"/>
<path d="M382.29999999999995,268.06399999999996 L385.29999999999995,271.06399999999996 L382.29999999999995,274.06399999999996 L379.29999999999995,271.06399999999996 Z" fill="#74b847"/>
<path d="M424.59999999999997,265.31899999999996 L427.59999999999997,268.31899999999996 L424.59999999999997,271.31899999999996 L421.59999999999997,268.31899999999996 Z" fill="#74b847"/>
<circle cx="297.7" cy="305.8" r="3" fill="#c8392c"/>
<line x1="296.6" y1="349.5" x2="310.0" y2="349.5" stroke="#f0952d" stroke-width="1.4" />
<rect x="301.1" y="347.3" width="4.4" height="4.4" fill="#f0952d" />
<text x="312.3" y="352.5" font-size="8.2" text-anchor="start" fill="#1a1a1a" stroke="#1a1a1a" stroke-width="0.18" >SU-DHL-6</text>
<line x1="356.8" y1="349.5" x2="370.2" y2="349.5" stroke="#7dbadf" stroke-width="1.4" />
<path d="M360.9,351.5 L363.5,347.1 L366.1,351.5 Z" fill="#7dbadf"/>
<text x="372.5" y="352.5" font-size="8.2" text-anchor="start" fill="#1a1a1a" stroke="#1a1a1a" stroke-width="0.18" >OCI-LY-3</text>
<line x1="296.6" y1="364.3" x2="310.0" y2="364.3" stroke="#2d4887" stroke-width="1.4" />
<text x="312.3" y="367.3" font-size="8.2" text-anchor="start" fill="#1a1a1a" stroke="#1a1a1a" stroke-width="0.18" >OCI-LY-10</text>
<line x1="356.8" y1="364.3" x2="370.2" y2="364.3" stroke="#3d1c5e" stroke-width="1.4" />
<circle cx="363.5" cy="364.3" r="2.4" fill="#3d1c5e"/>
<text x="372.5" y="367.3" font-size="8.2" text-anchor="start" fill="#1a1a1a" stroke="#1a1a1a" stroke-width="0.18" >VAL</text>
<line x1="296.6" y1="377.7" x2="310.0" y2="377.7" stroke="#74b847" stroke-width="1.4" />
<path d="M303.3,374.7 L306.3,377.7 L303.3,380.7 L300.3,377.7 Z" fill="#74b847"/>
<text x="312.3" y="380.7" font-size="8.2" text-anchor="start" fill="#1a1a1a" stroke="#1a1a1a" stroke-width="0.18" >OCI-LY-19</text>
<line x1="356.8" y1="377.7" x2="370.2" y2="377.7" stroke="#c8392c" stroke-width="1.4" />
<circle cx="363.5" cy="377.7" r="2.4" fill="#c8392c"/>
<text x="372.5" y="380.7" font-size="8.2" text-anchor="start" fill="#1a1a1a" stroke="#1a1a1a" stroke-width="0.18" >G452</text>
<text x="7.5" y="417.6" font-size="12.5" text-anchor="start" fill="#111" font-weight="bold" >E</text>
<text x="45.6" y="489.4" font-size="8.3" text-anchor="end" fill="#222" stroke="#222" stroke-width="0.18" >0</text>
<text x="45.6" y="478.95599999999996" font-size="8.3" text-anchor="end" fill="#222" stroke="#222" stroke-width="0.18" >20</text>
<text x="45.6" y="468.512" font-size="8.3" text-anchor="end" fill="#222" stroke="#222" stroke-width="0.18" >40</text>
<text x="45.6" y="458.068" font-size="8.3" text-anchor="end" fill="#222" stroke="#222" stroke-width="0.18" >60</text>
<text x="45.6" y="447.62399999999997" font-size="8.3" text-anchor="end" fill="#222" stroke="#222" stroke-width="0.18" >80</text>
<text x="45.6" y="437.17999999999995" font-size="8.3" text-anchor="end" fill="#222" stroke="#222" stroke-width="0.18" >100</text>
<text x="29.3" y="459.3" font-size="10" text-anchor="middle" fill="#222" stroke="#222" stroke-width="0.18" textLength="50" lengthAdjust="spacingAndGlyphs" transform="rotate(-90 29.3 459.3)" >% cell death</text>
<line x1="49.1" y1="433.7" x2="301.4" y2="433.7" stroke="#a14a5f" stroke-width="1.4" />
<rect x="64.25" y="453.7847" width="8.7" height="32.195249999999994" fill="#5d5d5d" />
<line x1="68.6" y1="450.6" x2="68.6" y2="456.6" stroke="#111" stroke-width="1.1" />
<line x1="67.0" y1="450.6" x2="70.19999999999999" y2="450.6" stroke="#111" stroke-width="1.1" />
<line x1="67.0" y1="456.6" x2="70.19999999999999" y2="456.6" stroke="#111" stroke-width="1.1" />
<rect x="91.95" y="467.623" width="8.7" height="18.322499999999998" fill="#5d5d5d" />
<line x1="96.3" y1="461.8" x2="96.3" y2="475" stroke="#111" stroke-width="1.1" />
<line x1="94.7" y1="461.8" x2="97.89999999999999" y2="461.8" stroke="#111" stroke-width="1.1" />
<line x1="94.7" y1="475" x2="97.89999999999999" y2="475" stroke="#111" stroke-width="1.1" />
<rect x="120.05000000000001" y="449.346" width="8.7" height="36.644999999999996" fill="#5d5d5d" />
<line x1="124.4" y1="446.5" x2="124.4" y2="451" stroke="#111" stroke-width="1.1" />
<line x1="122.80000000000001" y1="446.5" x2="126.0" y2="446.5" stroke="#111" stroke-width="1.1" />
<line x1="122.80000000000001" y1="451" x2="126.0" y2="451" stroke="#111" stroke-width="1.1" />
<rect x="148.35" y="437.3354" width="8.7" height="48.6855" fill="#5d5d5d" />
<rect x="176.35" y="434.4633" width="8.7" height="51.56475" fill="#5d5d5d" />
<rect x="204.75" y="439.1631" width="8.7" height="46.853249999999996" fill="#5d5d5d" />
<rect x="233.15" y="453.7847" width="8.7" height="32.195249999999994" fill="#5d5d5d" />
<rect x="261.04999999999995" y="436.291" width="8.7" height="49.732499999999995" fill="#5d5d5d" />
<rect x="288.7" y="453.7847" width="8.7" height="32.195249999999994" fill="#5d5d5d" />
<line x1="54.4" y1="485.9" x2="307.9" y2="485.9" stroke="#333" stroke-width="1.4" />
<text x="70.8" y="495.8" font-size="8.9" text-anchor="end" fill="#1a1a1a" stroke="#1a1a1a" stroke-width="0.18" transform="rotate(-45 70.8 495.8)" >Lymph Nodes^</text>
<text x="98.5" y="495.8" font-size="8.9" text-anchor="end" fill="#1a1a1a" stroke="#1a1a1a" stroke-width="0.18" transform="rotate(-45 98.5 495.8)" >Spleen^</text>
<text x="126.60000000000001" y="495.8" font-size="8.9" text-anchor="end" fill="#1a1a1a" stroke="#1a1a1a" stroke-width="0.18" transform="rotate(-45 126.60000000000001 495.8)" >PBLs^</text>
<text x="154.89999999999998" y="495.8" font-size="8.9" text-anchor="end" fill="#1a1a1a" stroke="#1a1a1a" stroke-width="0.18" transform="rotate(-45 154.89999999999998 495.8)" >DLBCL1</text>
<text x="182.89999999999998" y="495.8" font-size="8.9" text-anchor="end" fill="#1a1a1a" stroke="#1a1a1a" stroke-width="0.18" transform="rotate(-45 182.89999999999998 495.8)" >DLBCL2*</text>
<text x="211.29999999999998" y="495.8" font-size="8.9" text-anchor="end" fill="#1a1a1a" stroke="#1a1a1a" stroke-width="0.18" transform="rotate(-45 211.29999999999998 495.8)" >DLBCL2+</text>
<text x="239.7" y="495.8" font-size="8.9" text-anchor="end" fill="#1a1a1a" stroke="#1a1a1a" stroke-width="0.18" transform="rotate(-45 239.7 495.8)" >DLBCL3*</text>
<text x="267.59999999999997" y="495.8" font-size="8.9" text-anchor="end" fill="#1a1a1a" stroke="#1a1a1a" stroke-width="0.18" transform="rotate(-45 267.59999999999997 495.8)" >DLBCL4</text>
<text x="295.25" y="495.8" font-size="8.9" text-anchor="end" fill="#1a1a1a" stroke="#1a1a1a" stroke-width="0.18" transform="rotate(-45 295.25 495.8)" >DLBCL5</text>
<text x="57.7" y="539.8" font-size="8.1" text-anchor="start" fill="#1a1a1a" stroke="#1a1a1a" stroke-width="0.18" textLength="122.5" lengthAdjust="spacingAndGlyphs" >^ healthy tissue, + spleenic tumor,</text>
<text x="57.7" y="548.6" font-size="8.1" text-anchor="start" fill="#1a1a1a" stroke="#1a1a1a" stroke-width="0.18" >* leukemic phase</text>
<text x="325.2" y="417.8" font-size="12.5" text-anchor="start" fill="#111" font-weight="bold" >F</text>
<text x="357" y="492.9" font-size="8.5" text-anchor="end" fill="#222" stroke="#222" stroke-width="0.2" >0</text>
<text x="357" y="481.17999999999995" font-size="8.5" text-anchor="end" fill="#222" stroke="#222" stroke-width="0.2" >20</text>
<text x="357" y="469.46" font-size="8.5" text-anchor="end" fill="#222" stroke="#222" stroke-width="0.2" >40</text>
<text x="357" y="457.74" font-size="8.5" text-anchor="end" fill="#222" stroke="#222" stroke-width="0.2" >60</text>
<text x="357" y="446.02" font-size="8.5" text-anchor="end" fill="#222" stroke="#222" stroke-width="0.2" >80</text>
<text x="357" y="434.29999999999995" font-size="8.5" text-anchor="end" fill="#222" stroke="#222" stroke-width="0.2" >100</text>
<text x="340.2" y="461.8" font-size="10.3" text-anchor="middle" fill="#222" stroke="#222" stroke-width="0.2" textLength="46.4" lengthAdjust="spacingAndGlyphs" transform="rotate(-90 340.2 461.8)" >% live cells</text>
<rect x="369.8" y="448.587" width="7.6" height="41.31299999999999" fill="#5e5e5e" />
<line x1="373.6" y1="446" x2="373.6" y2="449.6" stroke="#111" stroke-width="1.2" />
<line x1="372.1" y1="446" x2="375.1" y2="446" stroke="#111" stroke-width="1.2" />
<line x1="372.1" y1="449.6" x2="375.1" y2="449.6" stroke="#111" stroke-width="1.2" />
<rect x="379.2" y="455.912" width="7.6" height="33.988" fill="#9b9b9b" />
<line x1="383.0" y1="454" x2="383.0" y2="457.5" stroke="#111" stroke-width="1.2" />
<line x1="381.5" y1="454" x2="384.5" y2="454" stroke="#111" stroke-width="1.2" />
<line x1="381.5" y1="457.5" x2="384.5" y2="457.5" stroke="#111" stroke-width="1.2" />
<rect x="389.1" y="465.28799999999995" width="7.6" height="24.612000000000023" fill="#cdcdcd" />
<line x1="392.90000000000003" y1="463.8" x2="392.90000000000003" y2="467.5" stroke="#111" stroke-width="1.2" />
<line x1="391.40000000000003" y1="463.8" x2="394.40000000000003" y2="463.8" stroke="#111" stroke-width="1.2" />
<line x1="391.40000000000003" y1="467.5" x2="394.40000000000003" y2="467.5" stroke="#111" stroke-width="1.2" />
<rect x="414" y="470.56199999999995" width="7.6" height="19.338000000000022" fill="#5e5e5e" />
<line x1="417.8" y1="465.4" x2="417.8" y2="474.8" stroke="#111" stroke-width="1.2" />
<line x1="416.3" y1="465.4" x2="419.3" y2="465.4" stroke="#111" stroke-width="1.2" />
<line x1="416.3" y1="474.8" x2="419.3" y2="474.8" stroke="#111" stroke-width="1.2" />
<rect x="424.1" y="456.498" width="7.6" height="33.40199999999999" fill="#9b9b9b" />
<line x1="427.90000000000003" y1="451.2" x2="427.90000000000003" y2="460.3" stroke="#111" stroke-width="1.2" />
<line x1="426.40000000000003" y1="451.2" x2="429.40000000000003" y2="451.2" stroke="#111" stroke-width="1.2" />
<line x1="426.40000000000003" y1="460.3" x2="429.40000000000003" y2="460.3" stroke="#111" stroke-width="1.2" />
<rect x="434.2" y="482.282" width="7.6" height="7.617999999999995" fill="#cdcdcd" />
<line x1="438.0" y1="481.5" x2="438.0" y2="484.5" stroke="#111" stroke-width="1.2" />
<line x1="436.5" y1="481.5" x2="439.5" y2="481.5" stroke="#111" stroke-width="1.2" />
<line x1="436.5" y1="484.5" x2="439.5" y2="484.5" stroke="#111" stroke-width="1.2" />
<rect x="458.2" y="433.644" width="7.6" height="56.25599999999997" fill="#5e5e5e" />
<line x1="462.0" y1="431" x2="462.0" y2="435" stroke="#111" stroke-width="1.2" />
<line x1="460.5" y1="431" x2="463.5" y2="431" stroke="#111" stroke-width="1.2" />
<line x1="460.5" y1="435" x2="463.5" y2="435" stroke="#111" stroke-width="1.2" />
<rect x="468.2" y="484.03999999999996" width="7.6" height="5.860000000000014" fill="#9b9b9b" />
<line x1="472.0" y1="481" x2="472.0" y2="485.2" stroke="#111" stroke-width="1.2" />
<line x1="470.5" y1="481" x2="473.5" y2="481" stroke="#111" stroke-width="1.2" />
<line x1="470.5" y1="485.2" x2="473.5" y2="485.2" stroke="#111" stroke-width="1.2" />
<rect x="477.8" y="485.798" width="7.6" height="4.101999999999975" fill="#cdcdcd" />
<line x1="481.6" y1="484.3" x2="481.6" y2="486.5" stroke="#111" stroke-width="1.2" />
<line x1="480.1" y1="484.3" x2="483.1" y2="484.3" stroke="#111" stroke-width="1.2" />
<line x1="480.1" y1="486.5" x2="483.1" y2="486.5" stroke="#111" stroke-width="1.2" />
<line x1="361.2" y1="489.9" x2="494.8" y2="489.9" stroke="#111" stroke-width="1.4" />
<polyline points="373.6,446.5 373.6,440.1 394.4,440.1 394.4,461" fill="none" stroke="#111" stroke-width="1.3"/>
<polyline points="382.8,453.5 382.8,448.5 392.8,448.5 392.8,458.5" fill="none" stroke="#111" stroke-width="1.3"/>
<line x1="382.60" y1="436.30" x2="385.60" y2="436.30" stroke="#222" stroke-width="0.9" />
<line x1="383.04" y1="435.24" x2="385.16" y2="437.36" stroke="#222" stroke-width="0.9" />
<line x1="384.10" y1="434.80" x2="384.10" y2="437.80" stroke="#222" stroke-width="0.9" />
<line x1="385.16" y1="435.24" x2="383.04" y2="437.36" stroke="#222" stroke-width="0.9" />
<line x1="386.70" y1="445.50" x2="389.70" y2="445.50" stroke="#222" stroke-width="0.9" />
<line x1="387.14" y1="444.44" x2="389.26" y2="446.56" stroke="#222" stroke-width="0.9" />
<line x1="388.20" y1="444.00" x2="388.20" y2="447.00" stroke="#222" stroke-width="0.9" />
<line x1="389.26" y1="444.44" x2="387.14" y2="446.56" stroke="#222" stroke-width="0.9" />
<polyline points="417,465.4 417,440 439.9,440 439.9,478.8" fill="none" stroke="#111" stroke-width="1.3"/>
<polyline points="427.6,451 427.6,448.6 436.6,448.6 436.6,478.3" fill="none" stroke="#111" stroke-width="1.3"/>
<text x="428.2" y="438.6" font-size="7" text-anchor="middle" fill="#222" stroke="#222" stroke-width="0.2" >#</text>
<text x="431.6" y="447.1" font-size="7" text-anchor="middle" fill="#222" stroke="#222" stroke-width="0.2" >#</text>
<polyline points="471.7,478.6 471.7,474.2 481.3,474.2 481.3,480.4" fill="none" stroke="#111" stroke-width="1.3"/>
<text x="476.4" y="470.7" font-size="8" text-anchor="middle" fill="#111" stroke="#111" stroke-width="0.2" >n.s.</text>
<text x="383.6" y="504.2" font-size="8.8" text-anchor="middle" fill="#1a1a1a" stroke="#1a1a1a" stroke-width="0.2" >SU-DHL-6</text>
<text x="427.5" y="504.2" font-size="8.8" text-anchor="middle" fill="#1a1a1a" stroke="#1a1a1a" stroke-width="0.2" >OCI-LY-19</text>
<text x="471.5" y="504.2" font-size="8.8" text-anchor="middle" fill="#1a1a1a" stroke="#1a1a1a" stroke-width="0.2" >G452</text>
<rect x="367.4" y="513.5" width="4.6" height="4.2" fill="#5e5e5e" />
<text x="375.9" y="517.5" font-size="8.1" text-anchor="start" fill="#1a1a1a" stroke="#1a1a1a" stroke-width="0.2" >400nM HG6-64-1</text>
<rect x="367.4" y="525.8" width="4.6" height="4.2" fill="#9b9b9b" />
<text x="375.9" y="529.8" font-size="8.1" text-anchor="start" fill="#1a1a1a" stroke="#1a1a1a" stroke-width="0.2" >100ng/ml Doxorubicin</text>
<rect x="367.4" y="538.1" width="4.6" height="4.2" fill="#cdcdcd" />
<text x="375.9" y="542.1" font-size="8.1" text-anchor="start" fill="#1a1a1a" stroke="#1a1a1a" stroke-width="0.2" >combination</text>
<text x="354.5" y="557.4" font-size="8.1" text-anchor="start" fill="#1a1a1a" stroke="#1a1a1a" stroke-width="0.2" textLength="146.5" lengthAdjust="spacingAndGlyphs" ><tspan font-size="5.5" dy="-2">*</tspan><tspan font-style="italic" dy="2">P</tspan> &lt; .005, # <tspan font-style="italic">P</tspan> &lt; .05, n.s. = not significant</text>
</svg></body></html>
